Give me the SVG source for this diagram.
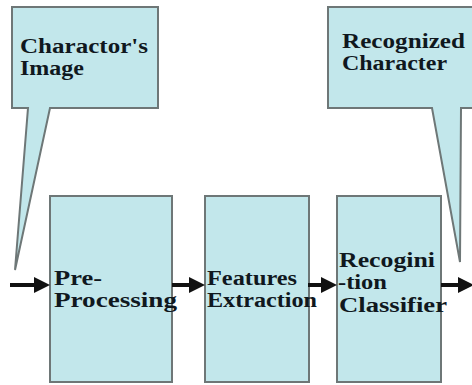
<svg xmlns="http://www.w3.org/2000/svg" width="472" height="385" viewBox="0 0 472 385">
<defs>
<style>
.shape{fill:#c2e7eb;stroke:#6e7777;stroke-width:2}
.t{font-family:"Liberation Serif","Times New Roman",serif;font-weight:bold;font-size:20px;fill:#10181e}
.c{stroke:#111;stroke-width:4;fill:none}
</style>
<marker id="ah" markerWidth="4" markerHeight="4" refX="3" refY="2" orient="auto" markerUnits="strokeWidth">
<path d="M0,0 L4,2 L0,4 Z" fill="#111"/>
</marker>
</defs>
<rect width="472" height="385" fill="#fff"/>
<g id="callout-input">
<path class="shape" d="M12,7 H158 V108 H50 L15,270 L28,108 H12 Z"/>
<text class="t" x="20" y="53" textLength="128" lengthAdjust="spacingAndGlyphs">Charactor's</text>
<text class="t" x="20" y="75" textLength="64" lengthAdjust="spacingAndGlyphs">Image</text>
</g>
<g id="callout-output">
<path class="shape" d="M328,7 H473 V108 H461 L460,262 L432,108 H328 Z"/>
<text class="t" x="342" y="48" textLength="123" lengthAdjust="spacingAndGlyphs">Recognized</text>
<text class="t" x="342" y="70" textLength="105" lengthAdjust="spacingAndGlyphs">Character</text>
</g>
<g id="preprocessing">
<rect class="shape" x="50" y="196" width="122" height="186"/>
<text class="t" x="54" y="285" textLength="48" lengthAdjust="spacingAndGlyphs">Pre-</text>
<text class="t" x="54" y="307" textLength="123" lengthAdjust="spacingAndGlyphs">Processing</text>
</g>
<g id="features">
<rect class="shape" x="205" y="196" width="104" height="186"/>
<text class="t" x="207" y="285" textLength="90" lengthAdjust="spacingAndGlyphs">Features</text>
<text class="t" x="207" y="307" textLength="110" lengthAdjust="spacingAndGlyphs">Extraction</text>
</g>
<g id="classifier">
<rect class="shape" x="337" y="196" width="104" height="186"/>
<text class="t" x="339" y="267" textLength="96" lengthAdjust="spacingAndGlyphs">Recogini</text>
<text class="t" x="338" y="289" textLength="49" lengthAdjust="spacingAndGlyphs">-tion</text>
<text class="t" x="339" y="312" textLength="108" lengthAdjust="spacingAndGlyphs">Classifier</text>
</g>
<g id="connectors">
<line class="c" x1="10" y1="285" x2="46" y2="285" marker-end="url(#ah)"/>
<line class="c" x1="172" y1="285" x2="201" y2="285" marker-end="url(#ah)"/>
<line class="c" x1="308" y1="285" x2="333" y2="285" marker-end="url(#ah)"/>
<line class="c" x1="441" y1="285" x2="470" y2="285" marker-end="url(#ah)"/>
</g>
</svg>
